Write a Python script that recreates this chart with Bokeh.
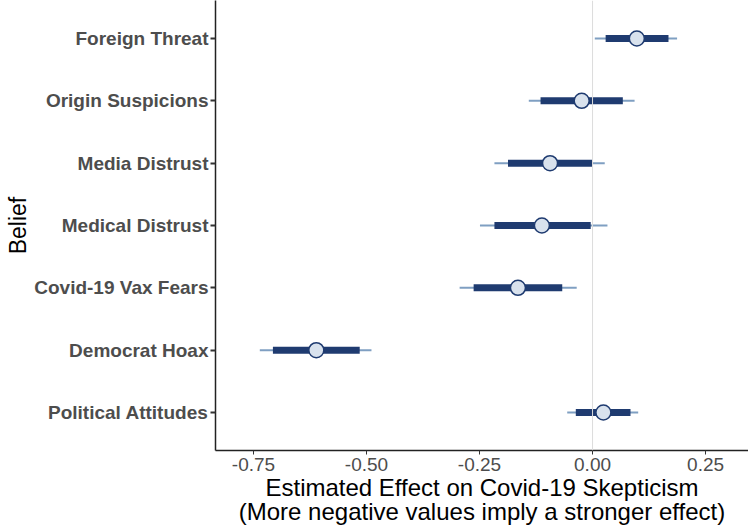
from bokeh.plotting import figure
from bokeh.models import ColumnDataSource, Span, FixedTicker
from bokeh.embed import file_html
from bokeh.resources import INLINE

# Data (top to bottom as in the chart)
beliefs = ["Foreign Threat", "Origin Suspicions", "Media Distrust", "Medical Distrust",
           "Covid-19 Vax Fears", "Democrat Hoax", "Political Attitudes"]
estimate = [0.098, -0.024, -0.094, -0.112, -0.165, -0.611, 0.024]
inner_lo = [0.029, -0.115, -0.187, -0.217, -0.263, -0.707, -0.037]
inner_hi = [0.168, 0.067, -0.001, -0.004, -0.067, -0.515, 0.084]
outer_lo = [0.005, -0.141, -0.217, -0.249, -0.294, -0.736, -0.056]
outer_hi = [0.187, 0.093, 0.027, 0.033, -0.035, -0.489, 0.101]
x_ticks = [-0.75, -0.50, -0.25, 0.00, 0.25]

n = len(beliefs)
ypos = [n - i for i in range(n)]

src = ColumnDataSource(dict(y=ypos, est=estimate, ilo=inner_lo, ihi=inner_hi,
                            olo=outer_lo, ohi=outer_hi, name=beliefs))

p = figure(width=748, height=531, output_backend="svg", toolbar_location=None,
           x_range=(-0.834, 0.345), y_range=(0.39, 7.61),
           min_border_left=215, min_border_right=0, min_border_top=0, min_border_bottom=81)

p.outline_line_color = None
p.xgrid.grid_line_color = None
p.ygrid.grid_line_color = None
p.background_fill_color = "white"

p.add_layout(Span(location=0, dimension="height", line_color="#dcdcdc", line_width=1))

p.segment(x0="olo", x1="ohi", y0="y", y1="y", source=src, line_color="#7f9fc2", line_width=2)
p.segment(x0="ilo", x1="ihi", y0="y", y1="y", source=src, line_color="#1f3b70", line_width=7)
p.scatter(x="est", y="y", source=src, size=15, fill_color="#d9e2ed",
          line_color="#1f3b70", line_width=1.5)

# Y axis
p.yaxis.ticker = FixedTicker(ticks=ypos)
p.yaxis.major_label_overrides = {y: b for y, b in zip(ypos, beliefs)}
p.yaxis.major_label_text_font = "Liberation Sans"
p.yaxis.major_label_text_font_style = "bold"
p.yaxis.major_label_text_font_size = "19px"
p.yaxis.major_label_text_color = "#4d4d4d"
p.yaxis.major_label_standoff = 2
p.yaxis.major_tick_out = 5
p.yaxis.major_tick_in = 0
p.yaxis.minor_tick_line_color = None
p.yaxis.major_tick_line_color = "#333333"
p.yaxis.major_tick_line_width = 2
p.yaxis.axis_line_color = "#222222"
p.yaxis.axis_line_width = 1.5
p.yaxis.axis_label = "Belief"
p.yaxis.axis_label_text_font = "Liberation Sans"
p.yaxis.axis_label_text_font_style = "normal"
p.yaxis.axis_label_text_font_size = "23px"
p.yaxis.axis_label_text_color = "black"
p.yaxis.axis_label_standoff = 0

# X axis
p.xaxis.ticker = FixedTicker(ticks=x_ticks)
p.xaxis.major_label_overrides = {t: f"{t:.2f}" for t in x_ticks}
p.xaxis.major_label_text_font = "Liberation Sans"
p.xaxis.major_label_text_font_size = "19px"
p.xaxis.major_label_text_color = "#4d4d4d"
p.xaxis.major_label_standoff = 3
p.xaxis.major_tick_out = 4
p.xaxis.major_tick_in = 0
p.xaxis.minor_tick_line_color = None
p.xaxis.major_tick_line_color = "#333333"
p.xaxis.axis_line_color = "#222222"
p.xaxis.axis_line_width = 1.5
p.xaxis.axis_label = "Estimated Effect on Covid-19 Skepticism\n(More negative values imply a stronger effect)"
p.xaxis.axis_label_text_font = "Liberation Sans"
p.xaxis.axis_label_text_font_style = "normal"
p.xaxis.axis_label_text_font_size = "24px"
p.xaxis.axis_label_text_line_height = 0.9
p.xaxis.axis_label_text_color = "black"
p.xaxis.axis_label_standoff = 0

open("out.html", "w").write(file_html(p, INLINE))
